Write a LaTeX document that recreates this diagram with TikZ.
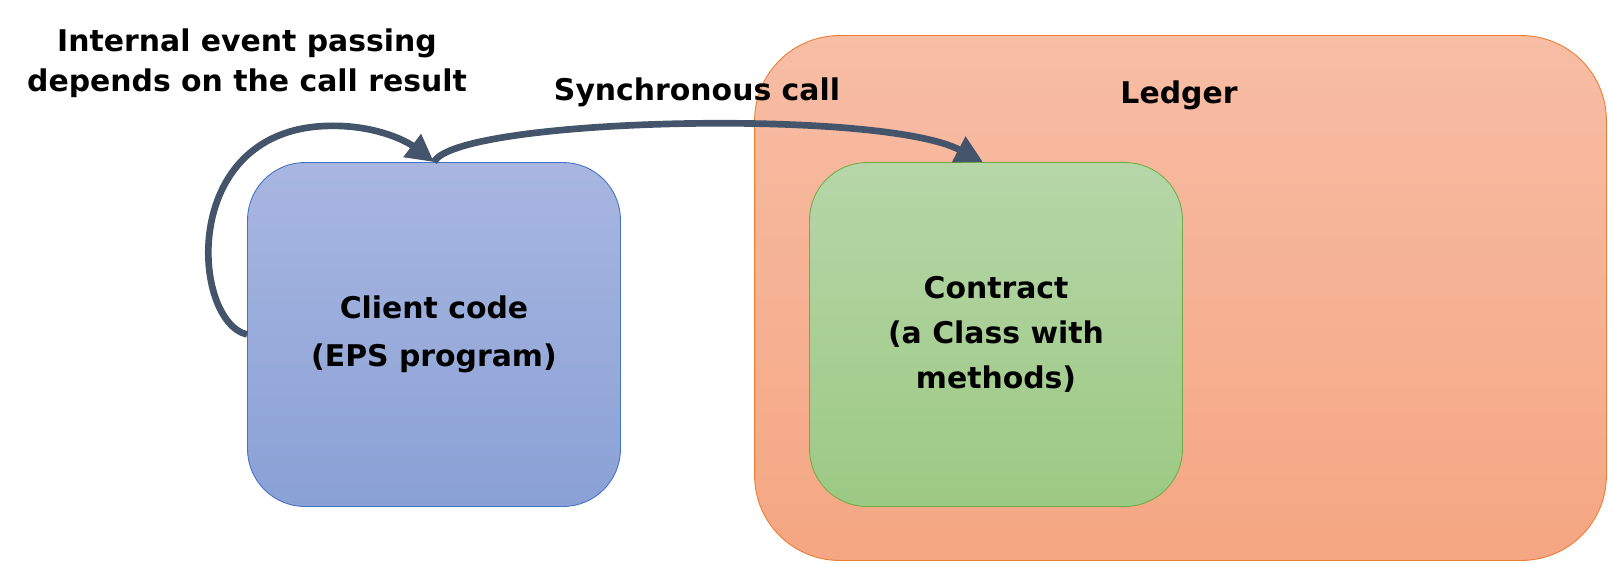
\documentclass[tikz,border=0pt]{standalone}
\usepackage{fontspec}
\setmainfont{DejaVu Sans}
\usetikzlibrary{arrows.meta}
\definecolor{LedgerTop}{HTML}{F7BDA5}
\definecolor{LedgerBot}{HTML}{F5A682}
\definecolor{LedgerLine}{HTML}{ED7D31}
\definecolor{ClientTop}{HTML}{A8B6E0}
\definecolor{ClientBot}{HTML}{8AA1D6}
\definecolor{ClientLine}{HTML}{4472C4}
\definecolor{ContractTop}{HTML}{B6D6A8}
\definecolor{ContractBot}{HTML}{9CC983}
\definecolor{ContractLine}{HTML}{70AD47}
\definecolor{ArrowDefault}{HTML}{44546A}
\newcommand{\txt}[1]{\fontsize{17}{#1}\selectfont\bfseries}

\begin{document}
\begin{tikzpicture}[x=0.02cm, y=-0.02cm,
    box/.style={draw, line width=0.5pt, rounded corners=1.15cm, align=center,
      minimum width=7.46cm, minimum height=6.88cm},
    call/.style={ArrowDefault, line width=3.8pt, -{Triangle[length=0.55cm,width=0.55cm]}}]
    \useasboundingbox (0,0) rectangle (1608,562);
    \node[draw=LedgerLine, line width=0.5pt, rounded corners=1.7cm,
      top color=LedgerTop, bottom color=LedgerBot,
      minimum width=17.04cm, minimum height=10.5cm] (ledger) at (1180.5,298) {};
    \node[font=\txt{20pt}] (ledgertxt) at (1179,95) {Ledger};
    \node[box, draw=ClientLine, top color=ClientTop, bottom color=ClientBot,
      font=\txt{27pt}] (client) at (434,334.5) {Client code\\(EPS program)};
    \node[box, draw=ContractLine, top color=ContractTop, bottom color=ContractBot,
      font=\txt{25.5pt}] (contract) at (996,334.5) {Contract\\(a Class with\\methods)};
    \node[align=center, font=\txt{22.8pt}] (looptxt) at (247,63)
      {Internal event passing\\depends on the call result};
    \node[font=\txt{20pt}] (synctxt) at (697,92) {Synchronous call};
    \coordinate (looptop) at (325,126);
    \draw[call] (client.west) .. controls (192,322) and (178,132) .. (looptop)
      .. controls (372,124) and (405,140) .. (client.north);
    \draw[call] (client.north) .. controls (455,118) and (880,108) .. ([xshift=-0.26cm]contract.north);
  \end{tikzpicture}
\end{document}
